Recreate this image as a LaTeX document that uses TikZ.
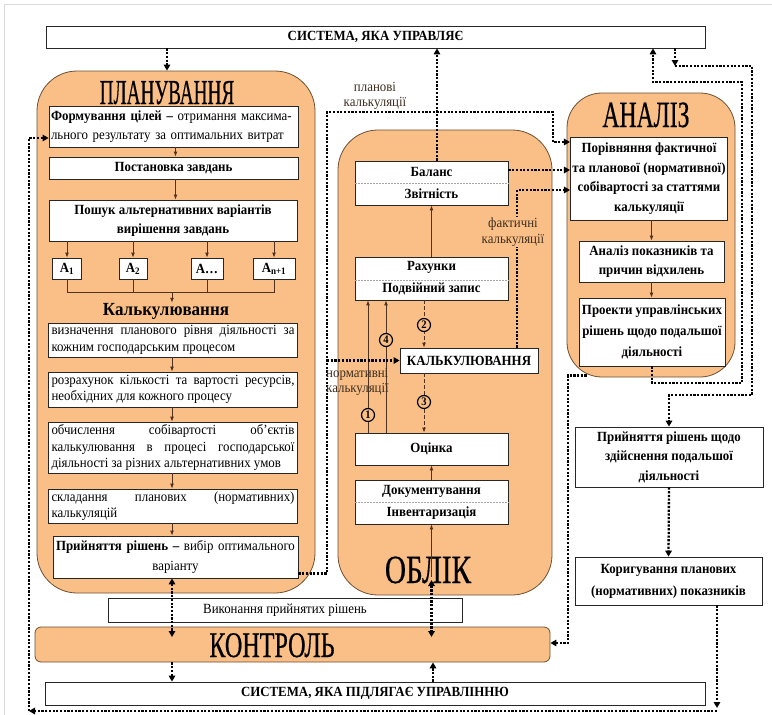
\documentclass[tikz,border=0pt]{standalone}
\usepackage{graphicx}
\usepackage{fontspec}
\setmainfont{Liberation Serif}[FakeStretch=0.92]
\newfontfamily\titlefont{Liberation Serif}[FakeBold=0.6]
\usetikzlibrary{arrows.meta,calc}
\definecolor{orfill}{RGB}{250,191,135}
\definecolor{oredge}{RGB}{110,80,50}
\definecolor{lbl}{RGB}{60,45,30}
\definecolor{arr}{RGB}{80,50,30}
\begin{document}
\begin{tikzpicture}[x=1pt,y=-1pt,
  wbox/.style={draw=black!85, line width=0.8pt, fill=white, inner sep=2pt, align=center, font=\bfseries\fontsize{14}{19.5}\selectfont},
  cbox/.style={draw=black!85, line width=0.8pt, fill=white, inner sep=2pt, text width=243pt, minimum width=249pt, align=justify, font=\fontsize{14}{16.5}\selectfont},
  obox/.style={draw=oredge, line width=0.8pt, fill=orfill},
  ttl/.style={inner sep=0pt, anchor=base},
  lab/.style={inner sep=0pt, text=lbl, align=center, font=\fontsize{14}{15.5}\selectfont},
  dotl/.style={line width=2.3pt, dash pattern=on 2.2pt off 1.5pt},
  dotarr/.style={dotl, -{Triangle[length=6pt,width=6.5pt]}},
  dotdbl/.style={dotl, {Triangle[length=6pt,width=6.5pt]}-{Triangle[length=6pt,width=6.5pt]}},
  sarr/.style={draw=arr, line width=0.9pt, -{Latex[length=5pt,width=4pt]}},
  sline/.style={draw=arr, line width=0.9pt},
  circ/.style={circle, draw=black, line width=1.2pt, fill=orfill, minimum size=13pt, inner sep=0pt, font=\bfseries\fontsize{11.5}{11.5}\selectfont},
  divl/.style={draw=black!35, line width=0.5pt, densely dotted}
]
\useasboundingbox (0,0) rectangle (772,715);
\fill[white] (0,0) rectangle (772,715);
\draw[black!15, line width=0.8pt] (4,715) -- (4,4) -- (772,4);

% ---------- top system
\node[wbox, minimum width=659pt, minimum height=22pt] (sysT) at (375.5,37) {СИСТЕМА, ЯКА УПРАВЛЯЄ};

% ---------- planning
\node[obox, minimum width=278pt, minimum height=522pt, rounded corners=40pt] (plan) at (176,332) {};
\node[ttl] (planT) at (167,104) {\titlefont\fontsize{35}{35}\selectfont\scalebox{0.55}[1]{ПЛАНУВАННЯ}};
\node[wbox, minimum width=249pt, minimum height=41pt, text width=245pt, align=left, font=\fontsize{14}{19.5}\selectfont] (form) at (173.5,126.5) {\textbf{Формування цілей –} отримання максима-\\льного результату за оптимальних витрат};
\node[wbox, minimum width=249pt, minimum height=22pt] (post) at (173.5,168) {Постановка завдань};
\node[wbox, minimum width=248pt, minimum height=41pt] (poshuk) at (173,220.5) {Пошук альтернативних варіантів\\вирішення завдань};
\node[wbox, minimum width=29pt, minimum height=21pt, inner sep=1pt] (a1) at (67,268.5) {A\textsubscript{1}};
\node[wbox, minimum width=28pt, minimum height=21pt, inner sep=1pt] (a2) at (133,268.5) {A\textsubscript{2}};
\node[wbox, minimum width=32pt, minimum height=21pt, inner sep=1pt] (a3) at (207,268.5) {A…};
\node[wbox, minimum width=42pt, minimum height=21pt, inner sep=1pt] (a4) at (274,268.5) {A\textsubscript{n+1}};
\node[inner sep=0pt, font=\bfseries\fontsize{18.5}{18.5}\selectfont] (kalkT) at (166,311) {Калькулювання};
\node[cbox, minimum height=34pt] (c1) at (173,340) {визначення планового рівня діяльності за кожним господарським процесом};
\node[cbox, minimum height=35pt] (c2) at (173,389.5) {розрахунок кількості та вартості ресурсів, необхідних для кожного процесу};
\node[cbox, minimum height=51pt] (c3) at (173,447.5) {обчислення собівартості об’єктів калькулювання в процесі господарської діяльності за різних альтернативних умов};
\node[cbox, minimum height=34pt] (c4) at (173,506) {складання планових (нормативних) калькуляцій};
\node[wbox, minimum width=245pt, minimum height=42pt, text width=241pt, font=\fontsize{14}{20}\selectfont] (dec1) at (175.5,557) {\textbf{Прийняття рішень –} вибір оптимального\\варіанту};

% ---------- accounting
\node[obox, minimum width=214pt, minimum height=465pt, rounded corners=40pt] (obl) at (445,362.5) {};
\node[ttl] (oblT) at (428,583) {\titlefont\fontsize{40}{40}\selectfont\scalebox{0.73}[1]{ОБЛІК}};
\node[wbox, minimum width=153pt, minimum height=44pt, font=\bfseries\fontsize{14}{22}\selectfont] (bal) at (431.5,183) {Баланс\\Звітність};
\node[wbox, minimum width=153pt, minimum height=43pt, font=\bfseries\fontsize{14}{22}\selectfont] (rah) at (431.5,278.5) {Рахунки\\Подвійний запис};
\node[wbox, minimum width=138pt, minimum height=25pt] (kalk) at (469,360.5) {КАЛЬКУЛЮВАННЯ};
\node[wbox, minimum width=153pt, minimum height=32pt] (ots) at (431.5,449) {Оцінка};
\node[wbox, minimum width=153pt, minimum height=44pt, font=\bfseries\fontsize{14}{22}\selectfont] (doc) at (431.5,502) {Документування\\Інвентаризація};
\draw[divl] (bal.west) -- (bal.east);
\draw[divl] ([yshift=-1.5pt]rah.west) -- ([yshift=-1.5pt]rah.east);
\draw[divl] (doc.west) -- (doc.east);

% ---------- analysis
\node[obox, minimum width=168pt, minimum height=284pt, rounded corners=35pt] (anal) at (651,235) {};
\node[ttl] (analT) at (646,127) {\titlefont\fontsize{37}{37}\selectfont\scalebox{0.64}[1]{АНАЛІЗ}};
\node[wbox, minimum width=150pt, minimum height=83pt] (por) at (649,178.5) {Порівняння фактичної\\та планової (нормативної)\\собівартості за статтями\\калькуляції};
\node[wbox, minimum width=145pt, minimum height=41pt] (an2) at (651.5,261.5) {Аналіз показників та\\причин відхилень};
\node[wbox, minimum width=146pt, minimum height=68pt, font=\bfseries\fontsize{14}{21}\selectfont] (proj) at (652,332) {Проекти управлінських\\рішень щодо подальшої\\діяльності};
\node[wbox, minimum width=188pt, minimum height=60pt] (decis) at (669,457) {Прийняття рішень щодо\\здійснення подальшої\\діяльності};
\node[wbox, minimum width=187pt, minimum height=48pt, font=\bfseries\fontsize{14}{22}\selectfont] (kor) at (668.5,581) {Коригування планових\\(нормативних) показників};

% ---------- control
\node[wbox, minimum width=354pt, minimum height=24pt, font=\fontsize{14}{16}\selectfont] (vyk) at (285,610) {Виконання прийнятих рішень};
\node[obox, minimum width=515pt, minimum height=35pt, rounded corners=6pt] (kontr) at (292.5,644.5) {};
\node[ttl] (kontrT) at (272,657) {\titlefont\fontsize{36}{36}\selectfont\scalebox{0.67}[1]{КОНТРОЛЬ}};
\node[wbox, minimum width=660pt, minimum height=23pt] (sysB) at (375,693.5) {СИСТЕМА, ЯКА ПІДЛЯГАЄ УПРАВЛІННЮ};

% ---------- helper coordinates
\coordinate (colA) at (172,0);
\coordinate (colB) at (175.5,0);
\coordinate (colT) at (167,0);
\coordinate (joinL) at (67,292);
\coordinate (x1) at (368,0);
\coordinate (x4) at (386,0);
\coordinate (x2) at (424,0);
\coordinate (bx) at (437,0);
\coordinate (ix) at (433,0);
\coordinate (gy) at (0,637);
\coordinate (oblA) at (431.5,577);
\coordinate (oblB) at (431.5,580);
\coordinate (cy) at (327,112);
\coordinate (cz) at (553,142);
\coordinate (ey) at (517,190);
\coordinate (fx) at (327,0);
\coordinate (kx) at (653,82);
\coordinate (inR) at (742,383);
\coordinate (lx) at (675,66);
\coordinate (outR) at (752,395);
\coordinate (mx) at (568,643);
\coordinate (ox) at (717,708);
\coordinate (br) at (717,711);
\coordinate (bl) at (29,711);
\coordinate (fy) at (29,138);

% ---------- solid arrows (planning)
\draw[sarr] (form.south -| colB) -- (post.north -| colB);
\draw[sarr] (post.south -| colB) -- (poshuk.north -| colB);
\foreach \a in {a1,a2,a3,a4} {\draw[sarr] (poshuk.south -| \a) -- (\a.north);}
\draw[sline] (a1.south) -- (a1 |- joinL) -- (a4 |- joinL) -- (a4.south);
\draw[sline] (a2.south) -- (a2 |- joinL);
\draw[sline] (a3.south) -- (a3 |- joinL);
\draw[sarr] (joinL -| colA) -- (kalkT.north -| colA);
\draw[sarr] (c1.south -| colA) -- (c2.north -| colA);
\draw[sarr] (c2.south -| colA) -- (c3.north -| colA);
\draw[sarr] (c3.south -| colA) -- (c4.north -| colA);
\draw[sarr] (c4.south -| colA) -- (dec1.north -| colA);

% ---------- solid arrows (accounting)
\draw[sarr] (rah.north) -- (bal.south);
\draw[sarr] (doc.north) -- (ots.south);
\draw[sarr] (oblA) -- (doc.south);
\draw[sarr] (ots.north -| x1) -- (rah.south -| x1);
\draw[sarr] (ots.north -| x4) -- (rah.south -| x4);
\draw[sarr, dash pattern=on 4pt off 2pt] (rah.south -| x2) -- (kalk.north -| x2);
\draw[sarr, dash pattern=on 4pt off 2pt] (kalk.south -| x2) -- (ots.north -| x2);
\node[circ] at (368,415) {1};
\node[circ] at (386,340) {4};
\node[circ] at (424,325) {2};
\node[circ] at (424,402) {3};

% ---------- solid arrows (analysis)
\draw[sarr] (por.south -| an2) -- (an2.north);
\draw[sarr] (an2.south) -- (proj.north -| an2);

% ---------- dotted connectors
\draw[dotarr] (sysT.south -| colT) -- (plan.north -| colT);
\draw[dotarr] (bal.north -| bx) -- (sysT.south -| bx);
\draw[dotarr] ([yshift=5pt]dec1.south east) -| (cy) -| (cz) -- (cz -| por.west);
\draw[dotarr] ([yshift=13pt]bal.east) -- ([yshift=13pt]bal.east -| por.west);
\draw[dotarr] (kalk.north -| ey) -- (ey) -- (ey -| por.west);
\draw[dotarr] (kalk.west -| fx) -- (kalk.west);
\draw[dotdbl] (dec1.south -| colA) -- (gy -| colA);
\draw[dotarr] (kontr.south -| colA) -- (sysB.north -| colA);
\draw[dotarr] (sysB.north -| ix) -- (kontr.south -| ix);
\draw[dotdbl] (oblB) -- (gy -| oblB);
\draw[dotarr] (proj.south) |- (inR) |- (kx) -- (kx |- sysT.south);
\draw[dotarr] (lx |- sysT.south) -- (lx);
\draw[dotarr] (lx) -| (outR) -| (decis.north);
\draw[dotarr] ($(anal.south west)+(20,-2)$) -| (mx) -- (mx -| kontr.east);
\draw[dotarr] (decis.south) -- (kor.north);
\draw[dotarr] (kor.south -| ox) -- (ox);
\draw[dotarr] (br) -- (bl);
\draw[dotarr] (bl) -- (fy) -- (fy -| form.west);

% ---------- labels
\node[lab] (lplan) at (375,96) {планові\\калькуляції};
\node[lab, fill=orfill, inner sep=1pt] (lfakt) at (513,232) {фактичні\\калькуляції};
\node[lab, anchor=north west, align=left] (lnorm) at (326,368) {нормативні\\калькуляції};
\end{tikzpicture}
\end{document}
